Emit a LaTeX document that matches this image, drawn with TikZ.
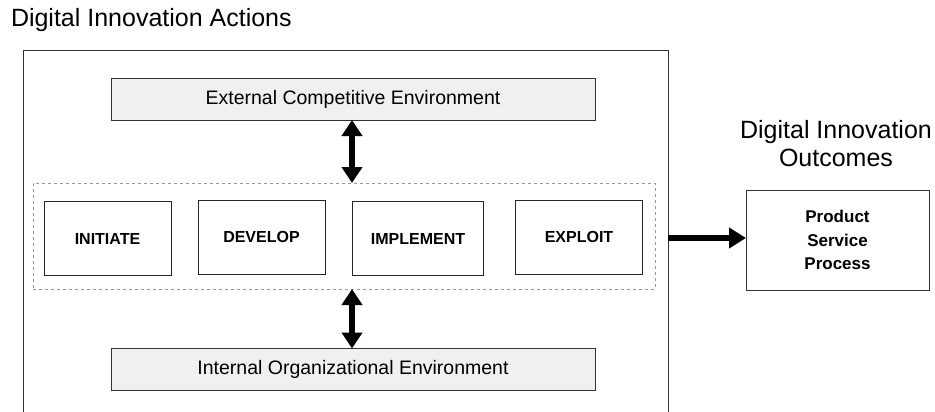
\documentclass[tikz,border=0pt]{standalone}
\usepackage{fontspec}
\setmainfont{Liberation Sans}
\usetikzlibrary{arrows.meta}

\begin{document}
\begin{tikzpicture}[x=1pt, y=-1pt,
  every node/.style={inner sep=0pt, outer sep=0pt},
  heading/.style={font=\fontsize{25}{28}\selectfont, align=center},
  envbox/.style={draw=black!80, fill=black!6, minimum width=484pt, minimum height=42pt, font=\fontsize{19.5}{22}\selectfont},
  phasebox/.style={draw=black!85, fill=white, minimum width=127pt, minimum height=74pt, font=\bfseries\fontsize{16}{17}\selectfont},
  bigarrow/.style={line width=6pt, {Triangle[length=16pt,width=20pt]}-{Triangle[length=16pt,width=20pt]}}]
\useasboundingbox (0,0) rectangle (935,412);

% actions side
\node[heading, anchor=west] (acttitle) at (11,20) {Digital Innovation Actions};
\node[draw=black!80, minimum width=645pt, minimum height=380pt] (actions) at (345.5,240) {};
\node[envbox] (ext) at (353,99) {External Competitive Environment};
\node[envbox] (int) at (353,369.5) {Internal Organizational Environment};
\node[draw=black!40, dashed, minimum width=622pt, minimum height=106pt] (phases) at (344,236) {};

\node[phasebox] (initiate) at (107.5,238.5) {INITIATE};
\node[phasebox] (develop) at (261.5,237) {DEVELOP};
\node[phasebox, minimum width=131pt] (implement) at (418,238.5) {IMPLEMENT};
\node[phasebox] (exploit) at (579,237) {EXPLOIT};

% outcomes side
\node[heading] (outtitle) at (836,144) {Digital Innovation\\Outcomes};
\node[draw=black!80, minimum width=183pt, minimum height=100pt, align=center,
      font=\bfseries\fontsize{17}{23.5}\selectfont] (outcome) at (837.5,240) {Product\\Service\\Process};

\draw[bigarrow] (ext.south -| 352,0) -- (352,0 |- phases.north);
\draw[bigarrow] (352,0 |- phases.south) -- (int.north -| 352,0);
\draw[line width=6pt, -{Triangle[length=17pt,width=20pt]}] (actions.east |- 0,238) -- (outcome.west |- 0,238);
\end{tikzpicture}
\end{document}
